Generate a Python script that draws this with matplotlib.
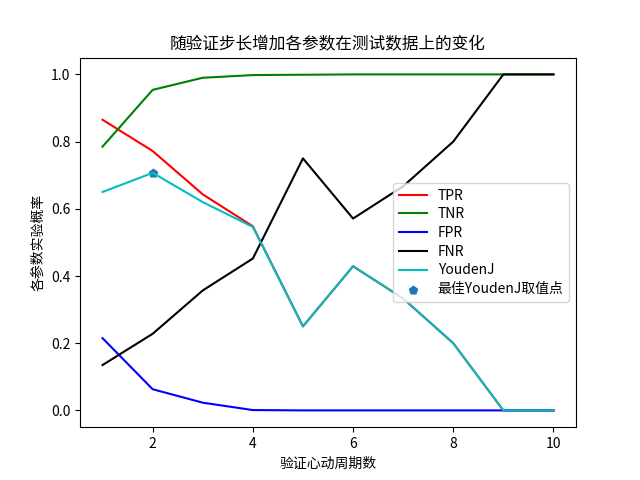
import matplotlib
matplotlib.use("Agg")
import matplotlib.pyplot as plt

plt.rcParams['font.family'] = ['Noto Sans CJK SC', 'DejaVu Sans']
plt.rcParams['axes.unicode_minus'] = False

steps = [1, 2, 3, 4, 5, 6, 7, 8, 9, 10]
tpr = [0.865, 0.772, 0.643, 0.548, 0.25, 0.429, 0.333, 0.2, 0.0, 0.0]
tnr = [0.785, 0.954, 0.990, 0.998, 0.999, 1.0, 1.0, 1.0, 1.0, 1.0]
fpr = [0.215, 0.063, 0.023, 0.001, 0.0, 0.0, 0.0, 0.0, 0.0, 0.0]
fnr = [0.135, 0.228, 0.357, 0.452, 0.75, 0.571, 0.667, 0.8, 1.0, 1.0]
youden = [0.65, 0.707, 0.62, 0.546, 0.25, 0.429, 0.333, 0.2, 0.0, 0.0]
best_step = 2
best_j = 0.707

fig = plt.figure(figsize=(6.4, 4.8), dpi=100)
plt.plot(steps, tpr, 'r', label='TPR')
plt.plot(steps, tnr, 'g', label='TNR')
plt.plot(steps, fpr, 'b', label='FPR')
plt.plot(steps, fnr, 'k', label='FNR')
plt.plot(steps, youden, 'c', label='YoudenJ')
plt.scatter(best_step, best_j, marker='p', label='最佳YoudenJ取值点')
plt.title('随验证步长增加各参数在测试数据上的变化')
plt.xlabel('验证心动周期数')
plt.ylabel('各参数实验概率')
plt.legend(loc='center right', labelspacing=0.34)
plt.savefig('out.png')
